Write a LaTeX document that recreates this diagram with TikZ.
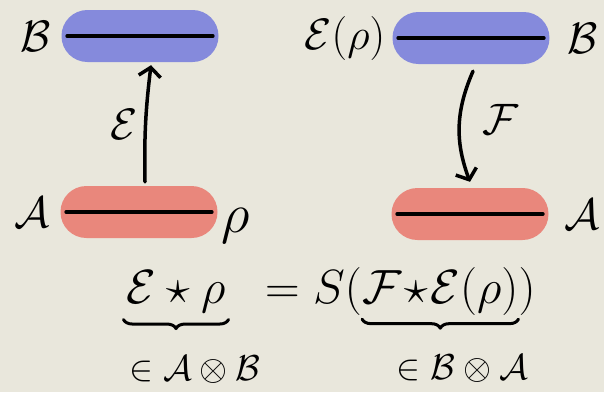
\documentclass[tikz,border=0pt]{standalone}
\usepackage{fix-cm}
\usepackage{amsmath}
\usepackage{amssymb}
\usepackage{tikz}
\usetikzlibrary{positioning, arrows.meta, decorations.pathreplacing, calc}

\definecolor{paper}{RGB}{233,231,220}
\definecolor{pillblue}{RGB}{133,138,220}
\definecolor{pillred}{RGB}{233,135,124}

\begin{document}
\begin{tikzpicture}[
		x=1pt, y=-1pt,
		node distance=8pt,
		pill/.style={rectangle, minimum width=157pt, minimum height=52pt,
			rounded corners=25.9pt, inner sep=0pt},
		bluepill/.style={pill, fill=pillblue},
		redpill/.style={pill, fill=pillred},
		pen/.style={line width=3.5pt, line cap=round, line join=round},
		arrow/.style={pen, -{Straight Barb[length=9pt, width=22pt]}},
		lbl/.style={inner sep=0pt, font=\fontsize{44}{48}\selectfont},
		eqn/.style={inner sep=0pt, font=\fontsize{48}{52}\selectfont},
		sub/.style={inner sep=0pt, font=\fontsize{36}{40}\selectfont},
		brace/.style={pen, line width=3pt, decorate, decoration={brace, mirror, amplitude=9pt}}
	]
		\fill[paper] (0,0) rectangle (604,392);
		\useasboundingbox (0,0) rectangle (604,392);
		
		% left pair
		\node[bluepill] (bTop) at (140,36) {};
		\node[redpill] (aBot) at (139,212) {};
		\draw[pen, line width=4pt] ([xshift=6pt]bTop.west) -- ([xshift=-6pt]bTop.east);
		\draw[pen, line width=4pt] ([xshift=6pt]aBot.west) -- ([xshift=-6pt]aBot.east);
		\node[lbl, left=10pt of bTop] (labB) {$\mathcal{B}$};
		\node[lbl, left=10pt of aBot] (labA) {$\mathcal{A}$};
		\node[lbl, anchor=west, font=\fontsize{56}{60}\selectfont] (labRho)
			at ([xshift=4pt, yshift=-14pt]aBot.east) {$\rho$};
		
		% right pair
		\node[bluepill] (bRight) at (471,38) {};
		\node[redpill] (aRight) at (470,214) {};
		\draw[pen, line width=4pt] ([xshift=6pt]bRight.west) -- ([xshift=-6pt]bRight.east);
		\draw[pen, line width=4pt] ([xshift=6pt]aRight.west) -- ([xshift=-6pt]aRight.east);
		\node[lbl, left=7pt of bRight] (labErho) {$\mathcal{E}(\rho)$};
		\node[lbl, right=18pt of bRight] (labB2) {$\mathcal{B}$};
		\node[lbl, right=16pt of aRight] (labA2) {$\mathcal{A}$};
		
		% channels
		\draw[arrow] ([xshift=6pt,yshift=4pt]aBot.north) to[bend left=4] ([xshift=11pt,yshift=-3pt]bTop.south);
		\node[lbl] (labE) at ($(aBot.north)!0.5!(bTop.south)+(-15,0)$) {$\mathcal{E}$};
		\draw[arrow] ([xshift=2pt,yshift=-7pt]bRight.south) to[bend right=22] ([yshift=6pt]aRight.north);
		\node[lbl] (labF) at ($(bRight.south)!0.45!(aRight.north)+(30,0)$) {$\mathcal{F}$};
		
		% equation
		\node[eqn, anchor=base] (lhs) at (176,303) {$\mathcal{E}\star\rho$};
		\node[eqn, anchor=base west] (eqSign) at (265,303) {$=$};
		\node[eqn, anchor=base west] (eqS) at (313,303) {$S($};
		\node[eqn, anchor=base west] (inner) at (eqS.base east) {$\medmuskip=1mu\mathcal{F}\star\mathcal{E}(\rho)$};
		\node[eqn, anchor=base west] (close) at (inner.base east) {$)$};
		
		\draw[brace] ([xshift=-3pt, yshift=-7pt]lhs.south west) -- ([xshift=3pt, yshift=-7pt]lhs.south east);
		\draw[brace] ([yshift=-4pt]inner.south west) -- ([yshift=-4pt]inner.south east);
		\node[sub] (inAB) at ([xshift=19pt, yshift=-57pt]lhs.south) {$\in\mathcal{A}\otimes\mathcal{B}$};
		\node[sub] (inBA) at ([xshift=22pt, yshift=-54pt]inner.south) {$\in\mathcal{B}\otimes\mathcal{A}$};
	\end{tikzpicture}
\end{document}
